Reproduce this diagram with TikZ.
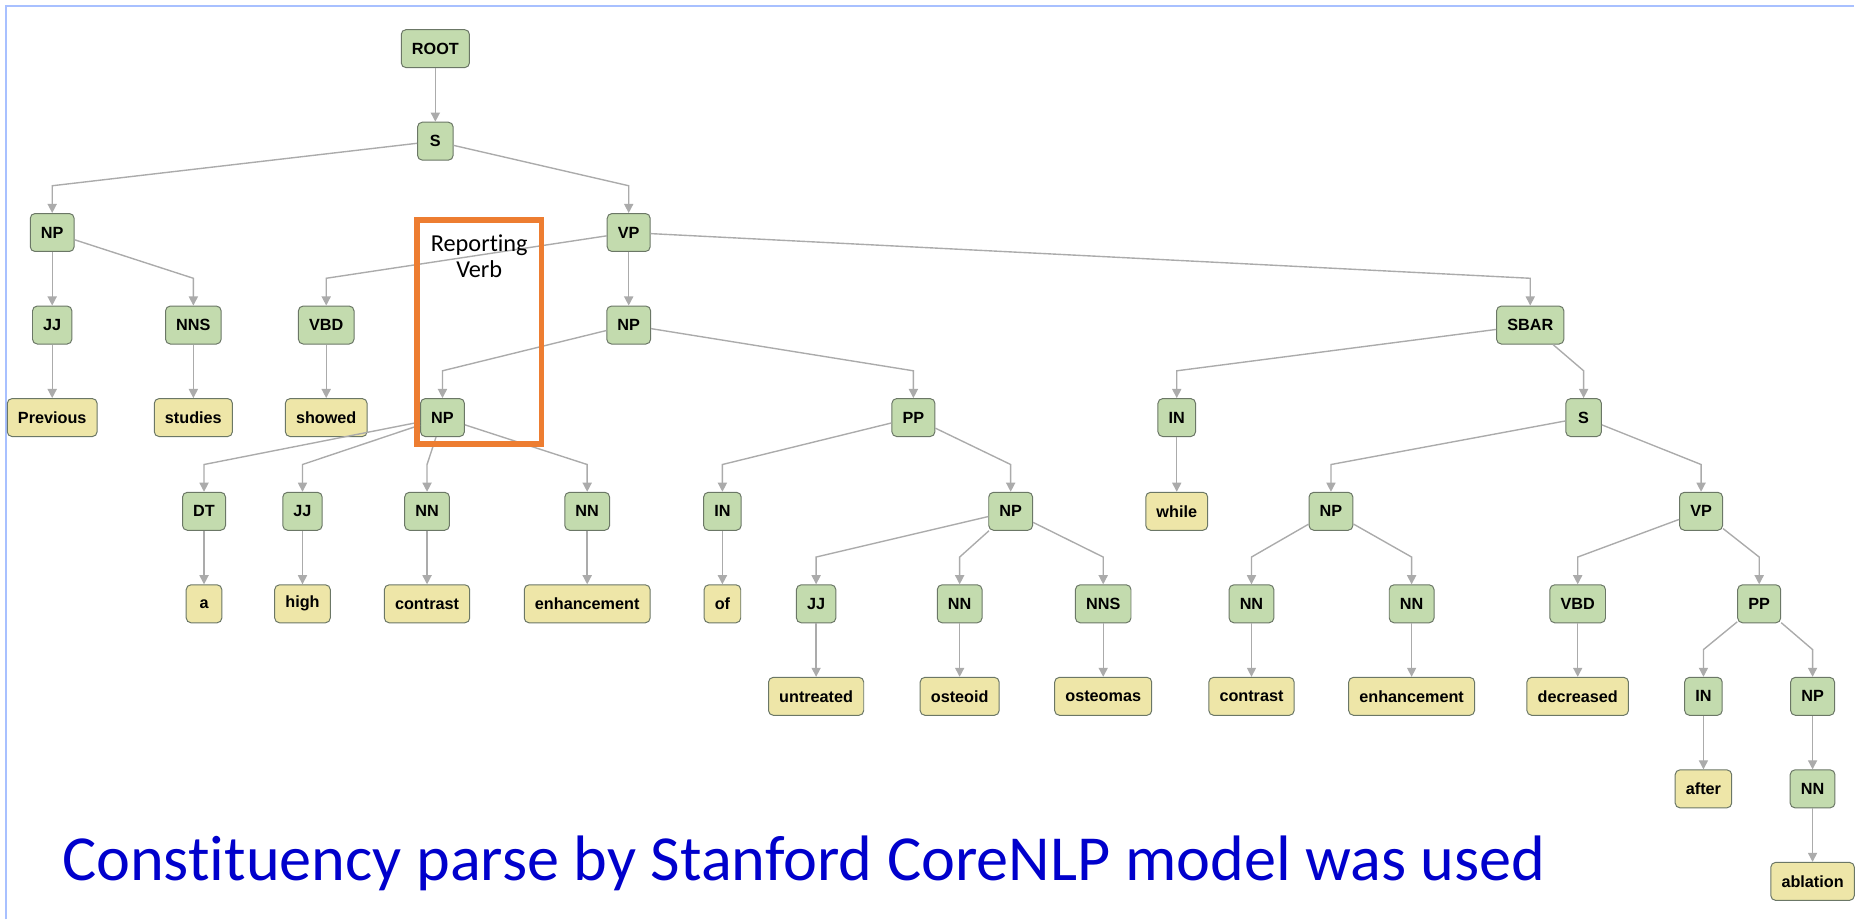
\documentclass[tikz,border=0pt]{standalone}
\usepackage{fontspec}
\usepackage{tikz}
\usetikzlibrary{positioning,arrows.meta}
\newfontfamily\tagfont{Liberation Sans}
\newfontfamily\notefont{Carlito}[Ligatures=NoCommon]
\definecolor{tagfill}{HTML}{C3DBAE}
\definecolor{wordfill}{HTML}{EEE6A8}
\definecolor{nodeline}{HTML}{6B7766}
\definecolor{edgegrey}{HTML}{ABABAB}
\definecolor{markorange}{HTML}{ED7D31}
\definecolor{capblue}{HTML}{0000CC}
\definecolor{framblue}{HTML}{A8C0FF}
\tikzset{tag/.style={rectangle, rounded corners=2.4pt, draw=nodeline, fill=tagfill,
                     line width=0.5pt, minimum width=18pt, minimum height=19.2pt,
                     inner xsep=5.4pt, font=\tagfont\bfseries\fontsize{8.2pt}{9.8pt}\selectfont},
         word/.style={tag, fill=wordfill},
         edge/.style={draw=edgegrey, line width=0.7pt, ->,
                      >={Triangle[width=4.6pt,length=4.6pt]}},
         markbox/.style={draw=markorange, line width=3pt, minimum width=63pt,
                         minimum height=113.4pt, inner sep=0pt},
         marktext/.style={inner sep=0pt, align=center,
                          font=\notefont\fontsize{12.3pt}{13.2pt}\selectfont}}

\begin{document}
\begin{tikzpicture}[x=0.6pt,y=-0.6pt]
  \useasboundingbox (0,0) rectangle (1568,775);
  \draw[framblue, line width=0.8pt] (5,775) -- (5,5) -- (1563,5);

  % phrase and tag nodes, row by row
  \node[tag] (root) at (367,41) {ROOT};
  \node[tag] (s1) at (367,119) {S};
  \node[tag] (np1) at (44,196) {NP};
  \node[tag] (vp1) at (530,196) {VP};
  \node[tag] (jj1) at (44,274) {JJ};
  \node[tag] (nns1) at (163,274) {NNS};
  \node[tag] (vbd1) at (275,274) {VBD};
  \node[tag] (np2) at (530,274) {NP};
  \node[tag] (sbar) at (1290,274) {SBAR};
  \node[word] (previous) at (44,352) {Previous};
  \node[word] (studies) at (163,352) {studies};
  \node[word] (showed) at (275,352) {showed};
  \node[tag] (np3) at (373,352) {NP};
  \node[tag] (pp1) at (770,352) {PP};
  \node[tag] (in2) at (992,352) {IN};
  \node[tag] (s2) at (1335,352) {S};
  \node[tag] (dt) at (172,431) {DT};
  \node[tag] (jj2) at (255,431) {JJ};
  \node[tag] (nn1) at (360,431) {NN};
  \node[tag] (nn2) at (495,431) {NN};
  \node[tag] (in1) at (609,431) {IN};
  \node[tag] (np4) at (852,431) {NP};
  \node[word] (while) at (992,431) {while};
  \node[tag] (np5) at (1122,431) {NP};
  \node[tag] (vp2) at (1434,431) {VP};
  \node[word] (a) at (172,509) {a};
  \node[word] (high) at (255,509) {high};
  \node[word] (contrast1) at (360,509) {contrast};
  \node[word] (enhancement1) at (495,509) {enhancement};
  \node[word] (of) at (609,509) {of};
  \node[tag] (jj3) at (688,509) {JJ};
  \node[tag] (nn3) at (809,509) {NN};
  \node[tag] (nns2) at (930,509) {NNS};
  \node[tag] (nn4) at (1055,509) {NN};
  \node[tag] (nn5) at (1190,509) {NN};
  \node[tag] (vbd2) at (1330,509) {VBD};
  \node[tag] (pp2) at (1483,509) {PP};
  \node[word] (untreated) at (688,587) {untreated};
  \node[word] (osteoid) at (809,587) {osteoid};
  \node[word] (osteomas) at (930,587) {osteomas};
  \node[word] (contrast2) at (1055,587) {contrast};
  \node[word] (enhancement2) at (1190,587) {enhancement};
  \node[word] (decreased) at (1330,587) {decreased};
  \node[tag] (in3) at (1436,587) {IN};
  \node[tag] (np6) at (1528,587) {NP};
  \node[word] (after) at (1436,665) {after};
  \node[tag] (nn6) at (1528,665) {NN};
  \node[word] (ablation) at (1528,743) {ablation};

  % parent -> child, bent just above the child
  \foreach \p/\c in {root/s1, s1/np1, s1/vp1, np1/jj1, np1/nns1, vp1/vbd1, vp1/np2,
      vp1/sbar, jj1/previous, nns1/studies, vbd1/showed, np2/np3, np2/pp1, np3/dt,
      np3/jj2, np3/nn1, np3/nn2, pp1/in1, pp1/np4, sbar/in2, sbar/s2, in2/while,
      s2/np5, s2/vp2, dt/a, jj2/high, nn1/contrast1, nn2/enhancement1, in1/of,
      np4/jj3, np4/nn3, np4/nns2, np5/nn4, np5/nn5, vp2/vbd2, vp2/pp2, jj3/untreated,
      nn3/osteoid, nns2/osteomas, nn4/contrast2, nn5/enhancement2, vbd2/decreased,
      pp2/in3, pp2/np6, in3/after, np6/nn6, nn6/ablation}
    \draw[edge] (\p) -- ([yshift=13.8pt]\c.north) -- (\c.north);

  \node[markbox] (report) at (404,280) {};
  \node[marktext, below=8.5pt of report.north] (reportlabel) {Reporting\\Verb};

  \node[anchor=base west, inner sep=0pt, text=capblue,
        font=\notefont\fontsize{32.5pt}{38pt}\selectfont] (caption) at (52,742)
    {Constituency parse by Stanford CoreNLP model was used};
\end{tikzpicture}
\end{document}
